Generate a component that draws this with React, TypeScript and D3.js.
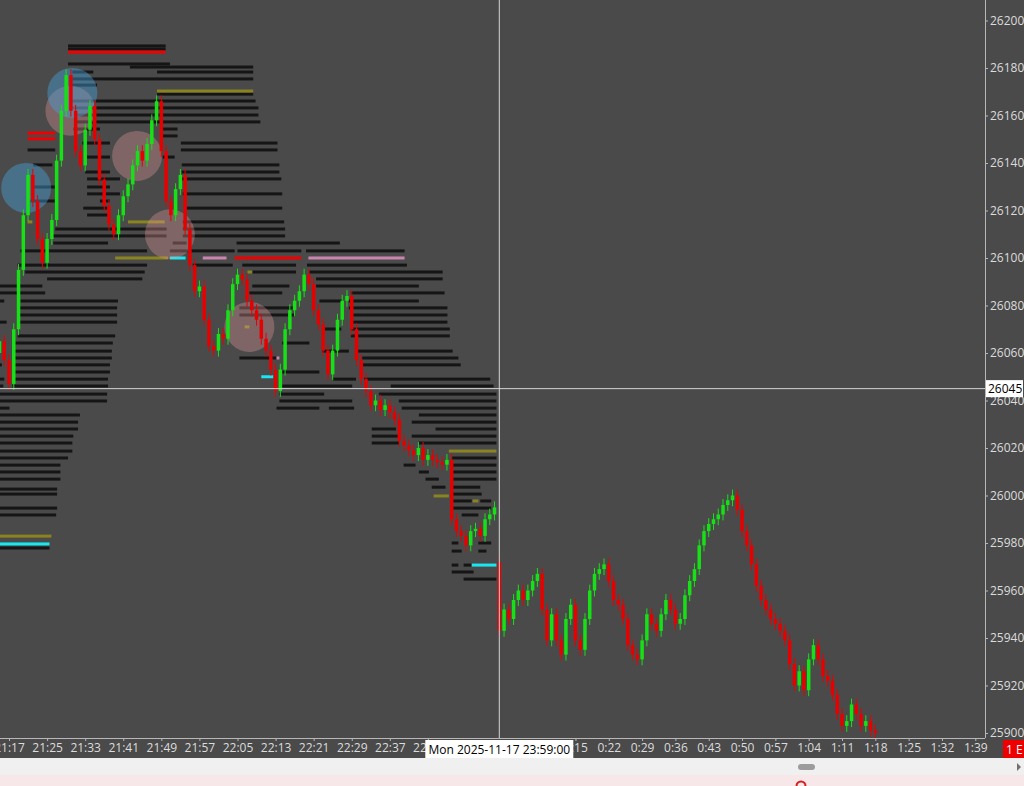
import { useEffect, useRef } from 'react';
import * as d3 from 'd3';

// 1-minute bars. Evening session starts 21:15 (bar 0), last bar 22:59 (bar 104).
// Night session starts 23:59 (bar 105).
const eveningOpen = 26060;
const eveningCloses = [
  26065, 26057, 26047, 26070, 26095, 26118, 26135, 26124, 26108, 26098,
  26108, 26116, 26141, 26162, 26177, 26162, 26145, 26139, 26154, 26164,
  26150, 26133, 26122, 26114, 26110, 26118, 26126, 26131, 26139, 26145,
  26141, 26148, 26158, 26166, 26145, 26124, 26118, 26129, 26135, 26112,
  26097, 26086, 26088, 26074, 26063, 26061, 26068, 26066, 26078, 26089,
  26093, 26091, 26082, 26078, 26074, 26066, 26061, 26053, 26044, 26053,
  26070, 26078, 26082, 26086, 26093, 26089, 26078, 26072, 26061, 26051,
  26061, 26074, 26082, 26084, 26070, 26057, 26049, 26044, 26038, 26040,
  26036, 26038, 26035, 26032, 26023, 26021, 26019, 26017, 26020, 26015,
  26017, 26015, 26014, 26013, 26015, 25990, 25985, 25983, 25979, 25985,
  25986, 25983, 25990, 25992, 25995,
];
const nightOpen = 25972;
const nightCloses = [
  25943, 25952, 25948, 25956, 25960, 25956, 25960, 25964, 25967, 25952,
  25939, 25950, 25939, 25933, 25948, 25954, 25939, 25935, 25948, 25960,
  25967, 25969, 25971, 25964, 25956, 25954, 25948, 25937, 25933, 25931,
  25939, 25950, 25946, 25943, 25950, 25956, 25952, 25946, 25948, 25958,
  25964, 25969, 25979, 25985, 25988, 25990, 25992, 25996, 25998, 26000,
  25994, 25985, 25979, 25971, 25962, 25956, 25952, 25948, 25946, 25943,
  25939, 25929, 25920, 25926, 25918, 25931, 25937, 25931, 25924, 25922,
  25916, 25908, 25903, 25905, 25912, 25908, 25903, 25905, 25901, 25900,
];
const nightFirstBar = 105;

const priceTicks = [26200, 26180, 26160, 26140, 26120, 26100, 26080, 26060, 26040, 26020, 26000, 25980, 25960, 25940, 25920, 25900];
// labels that are not hidden under the crosshair time box
const eveningTimeLabels = ['21:17', '21:25', '21:33', '21:41', '21:49', '21:57', '22:05', '22:13', '22:21', '22:29', '22:37', '22:45'];
const nightTimeLabels = ['0:15', '0:22', '0:29', '0:36', '0:43', '0:50', '0:57', '1:04', '1:11', '1:18', '1:25', '1:32', '1:39'];

const crossPrice = 26045;
const crossBar = 105;
const crossTimeLabel = 'Mon 2025-11-17 23:59:00';

// resting liquidity levels: [price, fromBar, toBar]
type Level = [number, number, number];
const blackLevels: Level[] = [
  [26189.3, 14.4, 34.9], [26188, 14.4, 34.9],
  [26181.7, 14.4, 35.8], [26180.4, 27.4, 53.3],
  [26178.3, 15.3, 19.7], [26178.3, 33.1, 53.3],
  [26175.4, 15.3, 53.3], [26172.8, 14.9, 20.5],
  [26169, 33.1, 53.3], [26166.1, 15.3, 53.8], [26163.2, 15.3, 54.4],
  [26160.2, 16.3, 54.4], [26157.3, 16.3, 54.8],
  [26154.3, 15.5, 21.1], [26154.3, 34.3, 37.4], [26151.4, 34.3, 37.4],
  [26148.4, 17.4, 23.2], [26148.4, 38.1, 58.4],
  [26145.5, 5.9, 11.7], [26145.5, 38.1, 58.4],
  [26142.5, 18, 23.2], [26142.5, 34.3, 36.8],
  [26139.2, 7.1, 11.1], [26139.2, 38.3, 58.8],
  [26136.2, 18, 23.2], [26136.2, 38.3, 58.8],
  [26133.3, 18.4, 25.3], [26133.3, 38.3, 59.2],
  [26129.9, 7.1, 11.7], [26129.9, 18.4, 23.2],
  [26127, 18.4, 25.3], [26127, 38.5, 59.4],
  [26124, 6.5, 11.7], [26124, 21.1, 23.2],
  [26121, 17.6, 23.2], [26121, 38.9, 59.4],
  [26118.1, 18.4, 23.2], [26115.2, 38.5, 59.8],
  [26112.2, 11.7, 35.1], [26112.2, 38.5, 60],
  [26109.3, 10.7, 35.1], [26109.3, 38.5, 60],
  [26106.3, 11.3, 22.8], [26106.3, 36.4, 39.3], [26106.3, 49.8, 71.5],
  [26103, 4.4, 31], [26103, 35.8, 49.4], [26103, 50, 63.4], [26103, 64.4, 85.1],
  [26097, 3.8, 31], [26097, 40.6, 49], [26097, 51, 62.3], [26097, 64.6, 85.6],
  [26094.1, 5.4, 30.5], [26094.1, 53.1, 62.3], [26094.1, 65.1, 93.1],
  [26091.2, 10, 30], [26091.2, 66.5, 93.1],
  [26088.2, -2, 9], [26088.2, 53.1, 60.9], [26088.2, 66.5, 88.1],
  [26085.3, -2, 9.6], [26085.3, 52.5, 59.4], [26085.3, 73.8, 93.5],
  [26081.9, -2, 1], [26081.9, 4.4, 24.9], [26081.9, 67.2, 72], [26081.9, 73.4, 88.1],
  [26079, 4, 24.7], [26079, 50.4, 61.9], [26079, 73.4, 94.1],
  [26076, 4, 24.7], [26076, 50.4, 61.9], [26076, 73.8, 94.1],
  [26073, -2, 1.5], [26073, 4, 24.7], [26073, 73.8, 94.1],
  [26070.1, 67.8, 71.8], [26070.1, 73.8, 94.6],
  [26067.2, 3.8, 24.3], [26067.2, 73.8, 94.6],
  [26064.2, 3.3, 23.8], [26064.2, 59.4, 65.1],
  [26060.8, 3.3, 23.6], [26060.8, 67.8, 73.4], [26060.8, 74.9, 95.2],
  [26057.9, 2.9, 23.6], [26057.9, 50.4, 58.2], [26057.9, 76.2, 96.4],
  [26055, -2, 0.5], [26055, 2.7, 23.2], [26055, 76.2, 96.9],
  [26052, 2.7, 23.2], [26052, 59.4, 67.2],
  [26049, -2, 1], [26049, 2.7, 22.8], [26049, 69.9, 74.9], [26049, 76.6, 103.1],
  [26046.1, -2, 0.8], [26046.1, 2.7, 22.8], [26046.1, 59.4, 74.1], [26046.1, 82.2, 103.8],
  [26042.7, -2, 22.6], [26042.7, 58.8, 68.2], [26042.7, 79.7, 104.4],
  [26039.8, -2, 22.6], [26039.8, 58.8, 74.1], [26039.8, 83.9, 104.4],
  [26036.8, -2, 2.1], [26036.8, 58.2, 67.2], [26036.8, 69.2, 74.5], [26036.8, 84.5, 104.4],
  [26033.9, -2, 16.9], [26033.9, 88.1, 104.4],
  [26030.9, -2, 16.5], [26030.9, 86.6, 104.4],
  [26028, -2, 16.5], [26028, 78.2, 83.3], [26028, 91.6, 104.4],
  [26025, -2, 15.5], [26025, 78.2, 83.9], [26025, 86.6, 104.4],
  [26022.1, -2, 15.3], [26022.1, 78.2, 83.9], [26022.1, 88.1, 104.4],
  [26018.7, -2, 15.3],
  [26015.8, -2, 14.4], [26015.8, 95, 104.4],
  [26012.8, -2, 12.8], [26012.8, 84.9, 87.4], [26012.8, 95, 104.4],
  [26009.9, -2, 12.8], [26009.9, 88.1, 90.2], [26009.9, 95, 104.4],
  [26006.9, -2, 12.8], [26006.9, 89.5, 92.3], [26006.9, 95, 104.4],
  [26003.5, 90.8, 93.7], [26003.5, 95, 101],
  [26002.7, -2, 12.1],
  [26000.6, -2, 12.1], [26000.6, 95, 101.3],
  [25997.7, 95, 99.2], [25997.7, 101, 103.3],
  [25994.7, -2, 12.1], [25994.7, 95, 103.3],
  [25991.8, -2, 11.9], [25991.8, 97.1, 100.6],
  [25980, 95, 96.4], [25980, 100.6, 103.3],
  [25977.9, -2, 10.5],
  [25976.6, 95, 97.1], [25976.6, 100.6, 102.3],
  [25970.7, 95, 96.4], [25970.7, 97.5, 99.2],
  [25967.8, 95, 99.6],
  [25964.8, 97.5, 104.4],
];
const redLevels: Level[] = [
  [26186.7, 14.4, 34.9], [26152.6, 5.9, 11.7], [26150.2, 5.9, 11.7], [26100, 49.4, 63.4],
];
const oliveLevels: Level[] = [
  [26170.3, 33.1, 53.3], [26115.2, 27, 34.7], [26115.2, 5.9, 6.9], [26100, 24.3, 35.4],
  [26094.1, 52.1, 53.1], [26071, 51.5, 52.5], [26018.7, 94.4, 104.4], [25999.8, 91.2, 94.4],
  [25997.7, 99.4, 100.6], [25982.9, -2, 10.9],
];
const cyanLevels: Level[] = [
  [26100, 35.8, 39.1], [26050, 55, 57.5], [25970.7, 99.2, 104.4], [25979.6, -2, 10.5],
];
const pinkLevels: Level[] = [
  [26100, 42.7, 47.7], [26100, 64.9, 85.1], [26057.9, 58.2, 58.8],
];

// big-trade bubbles: [bar, price]
const sellBubbles: [number, number][] = [[14.9, 26162], [28.9, 26143], [35.8, 26110], [52.5, 26071]];
const buyBubbles: [number, number][] = [[5.6, 26129.5], [15.3, 26169.5]];

const W = 1024;
const H = 786;
const PLOT_R = 985;
const PLOT_B = 738;
const FONT = "'Open Sans', 'DejaVu Sans', sans-serif";

const parseMin = (s: string) => {
  const [h, m] = s.split(':').map(Number);
  return h * 60 + m;
};

export default function App() {
  const svgRef = useRef<SVGSVGElement>(null);

  useEffect(() => {
    if (!svgRef.current) return;
    const svg = d3.select(svgRef.current);
    svg.selectAll('*').remove();

    const x = d3.scaleLinear().domain([0, 205]).range([-0.5, 975.3]);
    const y = d3.scaleLinear().domain([25900, 26200]).range([733, 20.5]);

    // background
    svg.append('rect').attr('width', W).attr('height', 758).attr('fill', '#4a4a4a');
    svg.append('rect').attr('y', 758).attr('width', W).attr('height', 17).attr('fill', '#f0f0f0');
    svg.append('rect').attr('y', 775).attr('width', W).attr('height', 11).attr('fill', '#f7e7e8');

    svg.append('defs').append('clipPath').attr('id', 'plotClip')
      .append('rect').attr('width', PLOT_R).attr('height', PLOT_B);
    const plot = svg.append('g').attr('clip-path', 'url(#plotClip)');

    // levels
    const drawLevels = (levels: Level[], color: string, thick: number) => {
      plot.append('g').selectAll('rect').data(levels).join('rect')
        .attr('x', d => x(d[1]))
        .attr('width', d => Math.max(1, x(d[2]) - x(d[1])))
        .attr('y', d => y(d[0]) - thick / 2)
        .attr('height', thick)
        .attr('fill', color);
    };
    drawLevels(blackLevels, '#151515', 3);
    drawLevels(oliveLevels, '#8a8420', 3);
    drawLevels(cyanLevels, '#19e6f0', 3);
    drawLevels(pinkLevels, '#c985b0', 3);
    drawLevels(redLevels, '#f00000', 3);

    // bubbles
    plot.append('g').selectAll('circle').data(sellBubbles).join('circle')
      .attr('cx', d => x(d[0])).attr('cy', d => y(d[1])).attr('r', 25)
      .attr('fill', '#f0a0a0').attr('fill-opacity', 0.32);
    plot.append('g').selectAll('circle').data(buyBubbles).join('circle')
      .attr('cx', d => x(d[0])).attr('cy', d => y(d[1])).attr('r', 25)
      .attr('fill', '#45a5e0').attr('fill-opacity', 0.42);

    // candles
    type Bar = { i: number; o: number; c: number };
    const bars: Bar[] = [];
    eveningCloses.forEach((c, i) => bars.push({ i, o: i === 0 ? eveningOpen : eveningCloses[i - 1], c }));
    nightCloses.forEach((c, k) => bars.push({ i: nightFirstBar + k, o: k === 0 ? nightOpen : nightCloses[k - 1], c }));
    const WICK = 2.5;
    const col = (d: Bar) => (d.c >= d.o ? '#16e016' : '#e80000');
    const cg = plot.append('g');
    cg.selectAll('line').data(bars).join('line')
      .attr('x1', d => x(d.i)).attr('x2', d => x(d.i))
      .attr('y1', d => y(Math.max(d.o, d.c) + WICK))
      .attr('y2', d => y(Math.min(d.o, d.c) - WICK))
      .attr('stroke', col).attr('stroke-width', 1);
    cg.selectAll('rect').data(bars).join('rect')
      .attr('x', d => x(d.i) - 1.75).attr('width', 3.5)
      .attr('y', d => y(Math.max(d.o, d.c)))
      .attr('height', d => Math.max(1, Math.abs(y(d.o) - y(d.c))))
      .attr('fill', col);

    // crosshair
    const cy = y(crossPrice);
    const cx = x(crossBar);
    svg.append('line').attr('x1', 0).attr('x2', PLOT_R).attr('y1', cy).attr('y2', cy)
      .attr('stroke', '#d4d4d4').attr('stroke-width', 1);
    svg.append('line').attr('x1', cx).attr('x2', cx).attr('y1', 0).attr('y2', PLOT_B)
      .attr('stroke', '#d4d4d4').attr('stroke-width', 1);

    // right price axis
    const yAxis = svg.append('g').attr('transform', `translate(${PLOT_R},0)`)
      .call(d3.axisRight(y).tickValues(priceTicks).tickSize(3).tickPadding(2).tickFormat(d3.format('d')));
    yAxis.select('.domain').remove();
    yAxis.selectAll('line').attr('stroke', '#b8b8b8');
    yAxis.selectAll('text').attr('fill', '#dcdcdc').style('font-family', FONT).style('font-size', '12px');
    svg.append('line').attr('x1', PLOT_R + 0.5).attr('x2', PLOT_R + 0.5).attr('y1', 0).attr('y2', PLOT_B)
      .attr('stroke', '#b8b8b8');

    // bottom time axis
    const tickBars = [
      ...eveningTimeLabels.map(s => parseMin(s) - (21 * 60 + 15)),
      ...nightTimeLabels.map(s => nightFirstBar + 1 + parseMin(s)),
    ];
    const tickNames = [...eveningTimeLabels, ...nightTimeLabels];
    const xAxis = svg.append('g').attr('transform', `translate(0,${PLOT_B})`)
      .call(d3.axisBottom(x).tickValues(tickBars).tickSize(3).tickPadding(2)
        .tickFormat((_d, i) => tickNames[i]));
    xAxis.select('.domain').remove();
    xAxis.selectAll('line').attr('stroke', '#b8b8b8');
    xAxis.selectAll('text').attr('fill', '#dcdcdc').style('font-family', FONT).style('font-size', '12px');
    svg.append('line').attr('x1', 0).attr('x2', PLOT_R).attr('y1', PLOT_B + 0.5).attr('y2', PLOT_B + 0.5)
      .attr('stroke', '#b8b8b8');

    // crosshair labels
    svg.append('rect').attr('x', cx - 74).attr('y', 740).attr('width', 148).attr('height', 18).attr('fill', '#ffffff');
    svg.append('text').attr('x', cx).attr('y', 753.5).attr('text-anchor', 'middle')
      .style('font-family', FONT).style('font-size', '12px').attr('fill', '#000').text(crossTimeLabel);
    svg.append('rect').attr('x', PLOT_R + 1).attr('y', cy - 8.5).attr('width', 37).attr('height', 17).attr('fill', '#ffffff');
    svg.append('text').attr('x', PLOT_R + 3).attr('y', cy + 4.5)
      .style('font-family', FONT).style('font-size', '12px').attr('fill', '#000').text(String(crossPrice));

    // instrument tag
    svg.append('rect').attr('x', 1003).attr('y', 740).attr('width', 21).attr('height', 18).attr('fill', '#ee0000');
    svg.append('text').attr('x', 1006).attr('y', 753.5)
      .style('font-family', FONT).style('font-size', '12px').attr('fill', '#fff').text('1 E');

    // scrollbar
    svg.append('rect').attr('x', 798).attr('y', 764).attr('width', 17).attr('height', 6).attr('rx', 3).attr('fill', '#9c9c9c');
    svg.append('path').attr('d', 'M1017,763 L1021,767 L1017,771 Z').attr('fill', '#707070');
    svg.append('circle').attr('cx', 801).attr('cy', 786).attr('r', 4.5)
      .attr('fill', 'none').attr('stroke', '#d02020').attr('stroke-width', 2);
  }, []);

  return (
    <svg
      ref={svgRef}
      width={W}
      height={H}
      style={{ position: 'absolute', left: 0, top: 0, display: 'block' }}
    />
  );
}
